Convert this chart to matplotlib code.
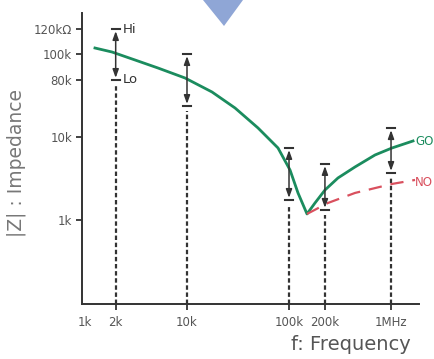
import matplotlib
matplotlib.use("Agg")
import matplotlib.pyplot as plt
from matplotlib.patches import Polygon

# ---- data ----
go_freq = [1253, 1839, 3092, 5195, 9560, 17580, 29560, 49670, 77990, 102300,
           122500, 150100, 179800, 225400, 302000, 443600, 697000, 1023000, 1643000]
go_imp = [118100, 105700, 84700, 67800, 51400, 34850, 22360, 12840, 7370, 4000,
          2115, 1181, 1602, 2298, 3206, 4351, 6068, 7370, 8950]

ng_freq = [150100, 241000, 443600, 1023000, 1719000]
ng_imp = [1181, 1602, 2115, 2715, 3033]

bar_freq = [2000, 10000, 100000, 225000, 1000000]
bar_hi = [200000, 100000, 7370, 4730, 12800]
bar_lo = [48600, 23600, 1740, 1320, 3680]

xtick_vals = [2000, 10000, 100000, 225000, 1000000]
xtick_labels = ["2k", "10k", "100k", "200k", "1MHz"]
ytick_vals = [1000, 10000, 48600, 100000, 200000]
ytick_labels = ["1k", "10k", "80k", "100k", "120k\u03a9"]

W, H = 434, 359
fig = plt.figure(figsize=(W / 100, H / 100), dpi=100)
ax = fig.add_axes([82 / W, 1 - 304 / H, (419 - 82) / W, (304 - 13) / H])
ax.set_xscale("log")
ax.set_yscale("log")
ax.set_xlim(935, 1.88e6)
ax.set_ylim(97, 312000)

for s in ["top", "right"]:
    ax.spines[s].set_visible(False)
for s in ["left", "bottom"]:
    ax.spines[s].set_linewidth(1.4)
    ax.spines[s].set_color("#333333")

ax.minorticks_off()
ax.set_xticks(xtick_vals)
ax.set_xticklabels(xtick_labels)
ax.set_xticks([1000], minor=True)
ax.set_xticklabels(["1k"], minor=True)
ax.set_yticks(ytick_vals)
ax.set_yticklabels(ytick_labels)
ax.tick_params(axis="both", which="major", direction="out", length=4, width=1.3,
               color="#333333", labelsize=8.5, labelcolor="#555555", pad=5)
ax.tick_params(axis="x", which="minor", length=0, labelsize=8.5,
               labelcolor="#555555", pad=9)
ax.tick_params(axis="y", which="major", pad=3)

# dashed verticals
for f, lo in zip(bar_freq, bar_lo):
    ax.plot([f, f], [97, lo * 0.86], color="#333333", lw=1.6,
            linestyle=(0, (2.0, 1.2)), zorder=2)

# Hi/Lo bars with arrows and caps
for f, hi, lo in zip(bar_freq, bar_hi, bar_lo):
    ax.annotate("", xy=(f, hi), xytext=(f, lo),
                arrowprops=dict(arrowstyle="<|-|>,head_length=0.5,head_width=0.18",
                                color="#333333", lw=1.1, shrinkA=1.5, shrinkB=1.5),
                zorder=4)
    ax.plot([f / 1.09, f * 1.09], [hi, hi], color="#333333", lw=1.5, zorder=4)
    ax.plot([f / 1.09, f * 1.09], [lo, lo], color="#333333", lw=1.5, zorder=4)

ax.plot(go_freq, go_imp, color="#1b8c5e", lw=2.0, zorder=3, clip_on=False,
        solid_joinstyle="round")
ax.plot(ng_freq, ng_imp, color="#d9505e", lw=1.6, dashes=(6, 4), zorder=3,
        clip_on=False)

ax.text(2350, 200000, "Hi", fontsize=9.5, color="#333333", va="center", ha="left")
ax.text(2350, 48600, "Lo", fontsize=9.5, color="#333333", va="center", ha="left")

fig.text(415 / W, 1 - 141 / H, "GO", color="#1b8c5e", fontsize=8.5,
         ha="left", va="center")
fig.text(415 / W, 1 - 182 / H, "NO", color="#d9505e", fontsize=8.5,
         ha="left", va="center")

fig.text(16 / W, 1 - 163 / H, "|Z| : Impedance", rotation=90, fontsize=13.5,
         color="#777777", ha="center", va="center")
fig.text(411 / W, 1 - 344 / H, "f: Frequency", fontsize=14, color="#555555",
         ha="right", va="center")

tri = Polygon([[203 / W, 1.0], [243 / W, 1.0], [224 / W, 1 - 26 / H]],
              closed=True, transform=fig.transFigure, facecolor="#8fa6d6",
              edgecolor="none")
fig.patches.append(tri)

fig.savefig("out.png", dpi=100)
